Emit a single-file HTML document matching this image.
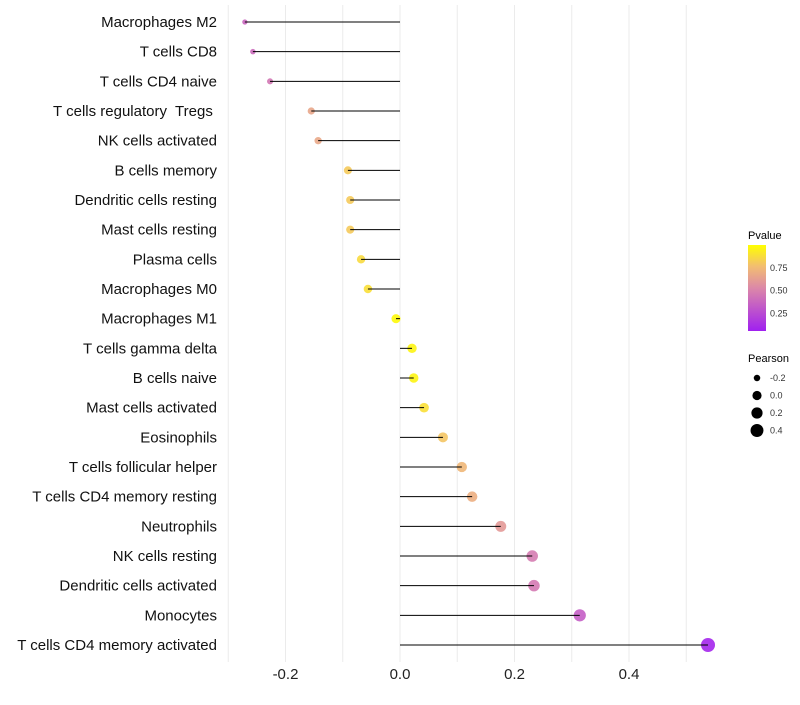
<!DOCTYPE html>
<html><head><meta charset="utf-8"><style>
body{margin:0;background:#fff;font-family:"Liberation Sans",sans-serif}
</style></head><body>
<svg id="c" width="800" height="700" xmlns="http://www.w3.org/2000/svg">
<defs><linearGradient id="pg" x1="0" y1="1" x2="0" y2="0">
<stop offset="0" stop-color="#a020f0"/><stop offset="0.5" stop-color="#dc88a8"/><stop offset="0.75" stop-color="#f2bd72"/><stop offset="1" stop-color="#ffff00"/></linearGradient></defs>
<g id="grid"></g><g id="pts"></g><g id="marks"></g><g id="labels"></g><g id="legend"></g>
</svg>
<script>
const categories=["Macrophages M2","T cells CD8","T cells CD4 naive","T cells regulatory  Tregs ","NK cells activated","B cells memory","Dendritic cells resting","Mast cells resting","Plasma cells","Macrophages M0","Macrophages M1","T cells gamma delta","B cells naive","Mast cells activated","Eosinophils","T cells follicular helper","T cells CD4 memory resting","Neutrophils","NK cells resting","Dendritic cells activated","Monocytes","T cells CD4 memory activated"];
const pearson=[-0.271,-0.257,-0.227,-0.155,-0.143,-0.091,-0.087,-0.087,-0.068,-0.056,-0.007,0.021,0.024,0.042,0.075,0.108,0.126,0.176,0.231,0.234,0.314,0.538];
const pvalue=[0.34,0.36,0.42,0.64,0.65,0.8,0.8,0.8,0.86,0.88,0.98,0.96,0.96,0.88,0.78,0.72,0.68,0.58,0.44,0.43,0.3,0.03];
const xTicks=[-0.2,0,0.2,0.4];
const pTicks=[0.25,0.5,0.75];
const sizeTicks=[-0.2,0,0.2,0.4];
const NS="http://www.w3.org/2000/svg";
const X=v=>400+v*572.5, Y=i=>22+i*29.667;
const R=v=>Math.sqrt(Math.max(2.5,21+52*v));
function col(p){const st=[[0,[160,32,240]],[0.5,[220,136,168]],[0.75,[242,189,114]],[1,[255,255,0]]];
for(let k=1;k<st.length;k++){if(p<=st[k][0]){const a=st[k-1],b=st[k],t=(p-a[0])/(b[0]-a[0]);return "rgb("+a[1].map((c,j)=>Math.round(c+(b[1][j]-c)*t)).join(",")+")";}}return "rgb(255,255,0)";}
function mk(t,a,p){const e=document.createElementNS(NS,t);for(const k in a)e.setAttribute(k,a[k]);(p||document.getElementById('marks')).appendChild(e);return e;}
const g=document.getElementById('grid');
for(let v=-0.3;v<=0.55;v+=0.1){const l=mk('line',{x1:X(v),x2:X(v),y1:5,y2:662,stroke:'#ebebeb','stroke-width':1},g);

}
const lab=document.getElementById('labels');
const pts=document.getElementById('pts');
xTicks.forEach(v=>{const t=mk('text',{x:X(v),y:679,'text-anchor':'middle','font-size':15,fill:'#222'},lab);t.textContent=v===0?"0.0":v.toFixed(1);

});
categories.forEach((c,i)=>{const t=mk('text',{x:217,y:Y(i)+5,'text-anchor':'end','font-size':15,fill:'#111'},lab);t.setAttribute('style','white-space:pre');t.textContent=c;


const d=mk('circle',{cx:X(pearson[i]),cy:Y(i),r:R(pearson[i]),fill:col(pvalue[i]),'fill-opacity':0.9},pts);


const l=mk('line',{x1:X(0),x2:X(pearson[i]),y1:Y(i),y2:Y(i),stroke:'#000','stroke-width':1});

});
const lg=document.getElementById('legend');
let t=mk('text',{x:748,y:239,'font-size':11},lg);t.textContent="Pvalue";


const bar=mk('rect',{x:748,y:245,width:18,height:86,fill:'url(#pg)'},lg);


const PY=p=>335-p*91;
pTicks.forEach(p=>{const tt=mk('text',{x:770,y:PY(p)+4,'font-size':9,fill:'#333'},lg);tt.textContent=p.toFixed(2);

});
t=mk('text',{x:748,y:362,'font-size':11},lg);t.textContent="Pearson";


sizeTicks.forEach((v,i)=>{const yy=378+i*17.5;const c=mk('circle',{cx:757,cy:yy,r:R(v),fill:'#000'},lg);


const tt=mk('text',{x:770,y:yy+3,'font-size':9,fill:'#333'},lg);tt.textContent=v===0?"0.0":v.toFixed(1);

});
</script>
</body></html>
